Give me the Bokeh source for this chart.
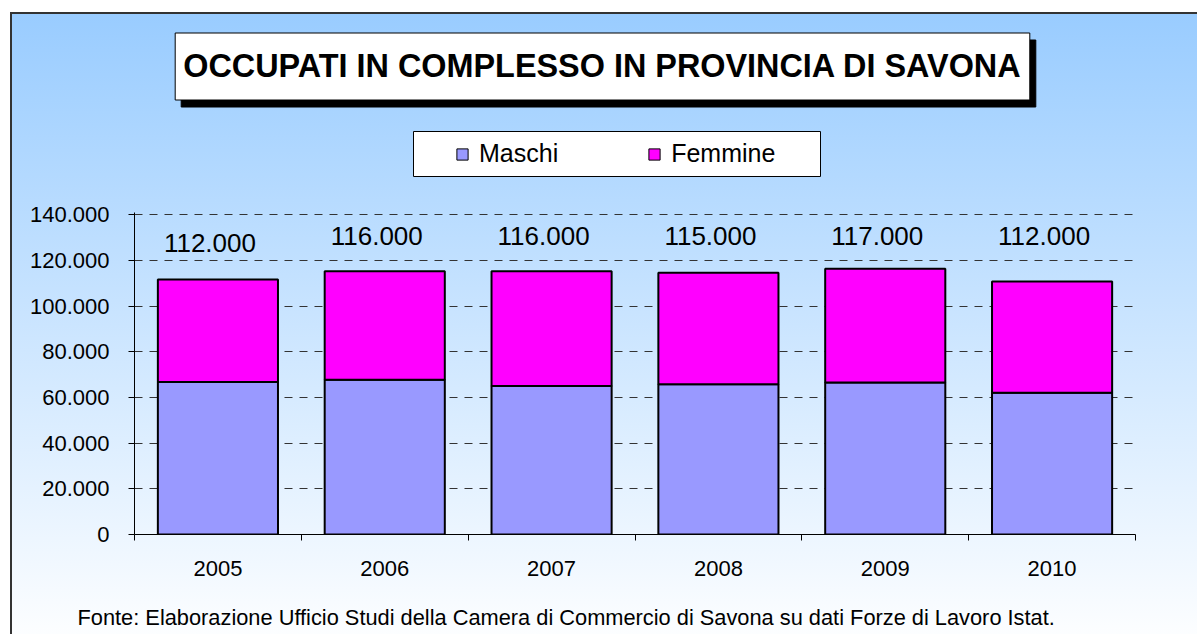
from bokeh.plotting import figure
from bokeh.models import (ColumnDataSource, Range1d, FixedTicker, CustomJSTickFormatter,
                          Label, Legend, LegendItem, GridBox, BoxAnnotation)
from bokeh.embed import file_html
from bokeh.resources import INLINE
from bokeh.core.properties import value

# ---- data ----
years = ["2005", "2006", "2007", "2008", "2009", "2010"]
maschi = [66800, 67800, 65000, 65800, 66600, 62100]
femmine = [44900, 47500, 50300, 48800, 49800, 48700]
totali = [112000, 116000, 116000, 115000, 117000, 112000]
series_names = ["Maschi", "Femmine"]
series_colors = ["#9999ff", "#ff00ff"]
y_ticks = [0, 20000, 40000, 60000, 80000, 100000, 120000, 140000]
title_text = "OCCUPATI IN COMPLESSO IN PROVINCIA DI SAVONA"
source_text = ("Fonte: Elaborazione Ufficio Studi della Camera di Commercio di Savona "
               "su dati Forze di Lavoro Istat.")

FONT = "Liberation Sans"
W, H = 1197, 634

def fmt(v):
    return "{:,}".format(v).replace(",", ".")

n = len(years)
xpos = [i + 0.5 for i in range(n)]

# ---------------- main chart ----------------
p = figure(width=W, height=H,
           x_range=Range1d(0, n), y_range=Range1d(0, 141000),
           output_backend="svg", toolbar_location=None,
           min_border_left=134, min_border_right=62,
           min_border_top=212, min_border_bottom=100,
           background_fill_color=None, border_fill_color=None,
           outline_line_color=None)
p.frame_align = False

p.xgrid.visible = False
p.ygrid.ticker = FixedTicker(ticks=y_ticks)
p.ygrid.grid_line_color = "#333333"
p.ygrid.grid_line_dash = "8 7"
p.ygrid.grid_line_width = 1

src = ColumnDataSource(dict(x=xpos, Maschi=maschi, Femmine=femmine))
bars = p.vbar_stack(series_names, x="x", width=0.72, source=src,
                    fill_color=series_colors, line_color="black", line_width=2)

lab = ColumnDataSource(dict(x=xpos, y=[130500] * n, text=[fmt(v) for v in totali],
                            dy=[7, 0, 0, 0, 0, 0]))
p.text(x="x", y="y", text="text", source=lab, text_align="center",
       text_baseline="middle", text_font=value(FONT), text_font_size="26px",
       text_color="black", x_offset=-8, y_offset="dy")

ya = p.yaxis[0]
ya.ticker = FixedTicker(ticks=y_ticks)
ya.formatter = CustomJSTickFormatter(
    code="return Math.round(tick).toString().replace(/\\B(?=(\\d{3})+(?!\\d))/g, '.');")
ya.major_tick_out = 6
ya.major_tick_in = 0
ya.minor_tick_out = 0
ya.minor_tick_in = 0
ya.major_label_text_font = FONT
ya.major_label_text_font_size = "22px"
ya.major_label_text_color = "black"
ya.major_label_standoff = 19
ya.axis_line_color = "black"
ya.major_tick_line_color = "black"

xa = p.xaxis[0]
xa.ticker = FixedTicker(ticks=xpos, minor_ticks=list(range(n + 1)))
xa.formatter = CustomJSTickFormatter(args=dict(years=years),
                                     code="return years[Math.floor(tick)];")
xa.major_tick_out = 0
xa.major_tick_in = 0
xa.minor_tick_out = 6
xa.minor_tick_in = 0
xa.minor_tick_line_color = "black"
xa.axis_line_color = "black"
xa.major_label_text_font = FONT
xa.major_label_text_font_size = "22px"
xa.major_label_text_color = "black"
xa.major_label_standoff = 20

# ---------------- overlay for title, legend and source note ----------------
q = figure(width=W, height=H, x_range=Range1d(0, W), y_range=Range1d(H, 0),
           output_backend="svg", toolbar_location=None,
           x_axis_location=None, y_axis_location=None,
           min_border=0, background_fill_color=None, border_fill_color=None,
           outline_line_color=None)
q.frame_align = False
q.xgrid.visible = False
q.ygrid.visible = False

# legend frame
q.add_layout(BoxAnnotation(left=413, right=820, top=131, bottom=176,
                           fill_color="white", fill_alpha=1,
                           line_color="black", line_width=1, line_alpha=1))

# hidden copies of the series that only carry the legend swatch styles
swatches = [q.vbar(x="x", top=name, source=src, width=1, fill_color=c,
                   line_color="black", line_width=1, visible=False)
            for name, c in zip(series_names, series_colors)]
leg = Legend(items=[LegendItem(label=name, renderers=[r]) for name, r in zip(series_names, swatches)],
             orientation="horizontal", location=(455, 466), click_policy="none",
             label_text_font=FONT, label_text_font_size="25px", label_text_color="black",
             glyph_width=14, glyph_height=14, label_standoff=10, spacing=89,
             padding=9, margin=0, border_line_color=None,
             background_fill_color=None, background_fill_alpha=0)
q.add_layout(leg)

pad = dict(left=8, right=8, top=15, bottom=16)
common = dict(x=602, y=66, text=title_text, text_align="center", text_baseline="middle",
              text_font=FONT, text_font_size="32.4px", text_font_style="bold",
              text_color="black", border_line_color="black", border_line_width=1, padding=pad)
q.add_layout(Label(background_fill_color="black", x_offset=6, y_offset=-7, **common))
q.add_layout(Label(background_fill_color="white", **common))
q.add_layout(Label(x=77, y=617, text=source_text, text_align="left", text_baseline="middle",
                   text_font=FONT, text_font_size="21.8px", text_color="black"))

layout = GridBox(children=[(p, 0, 0), (q, 0, 0)])
layout.styles = {
    "background": ("linear-gradient(#333,#333) 10px 12px / 2px 100% no-repeat, "
                   "linear-gradient(#333,#333) 10px 12px / 100% 2px no-repeat, "
                   "linear-gradient(to bottom, #99ccff, #ffffff) 10px 12px / 100% 640px no-repeat, "
                   "#ffffff")
}

open("out.html", "w").write(file_html(layout, INLINE))
